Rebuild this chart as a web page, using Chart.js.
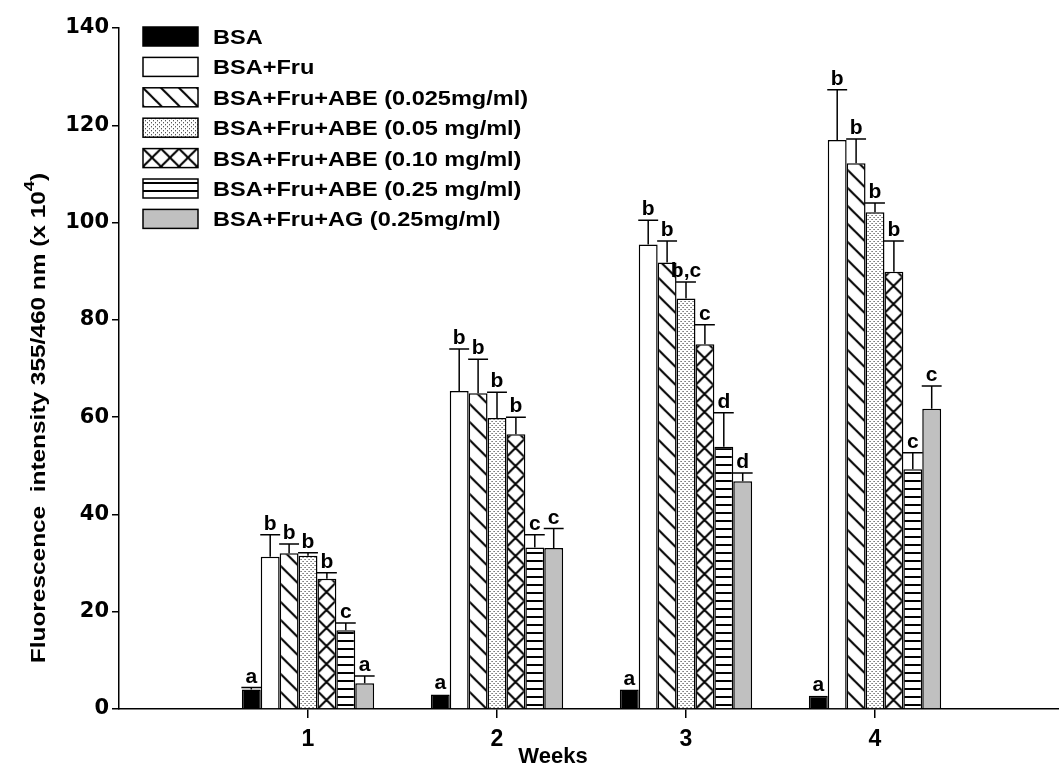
<!DOCTYPE html>
<html>
<head>
<meta charset="utf-8">
<script src="https://cdn.jsdelivr.net/npm/chart.js@4.4.1/dist/chart.umd.min.js"></script>
<style>
  html, body { margin: 0; padding: 0; background: #fff; overflow: hidden; }
  #wrap { position: relative; width: 1072px; height: 765px; }
</style>
</head>
<body>
<div id="wrap"><canvas id="fluoChart"></canvas></div>
<script>
// weeks on the x axis
const weeks = ['1', '2', '3', '4'];

const seriesNames = [
    'BSA',
    'BSA+Fru',
    'BSA+Fru+ABE (0.025mg/ml)',
    'BSA+Fru+ABE (0.05 mg/ml)',
    'BSA+Fru+ABE (0.10 mg/ml)',
    'BSA+Fru+ABE (0.25 mg/ml)',
    'BSA+Fru+AG (0.25mg/ml)'
];

// fluorescence intensity (x 10^4), one value per week
const bsa      = [4.0, 3.0, 4.0, 2.7];
const bsaFru   = [31.3, 65.4, 95.5, 117.0];
const abe0025  = [32.0, 64.9, 91.8, 112.2];
const abe005   = [31.5, 59.8, 84.4, 102.1];
const abe010   = [26.8, 56.5, 75.0, 89.9];
const abe025   = [16.2, 33.2, 53.9, 49.3];
const ag025    = [5.3, 33.1, 46.8, 61.7];

// upper error (SD)
const bsaErr     = [0.4, 0, 0, 0];
const bsaFruErr  = [4.5, 8.6, 5.0, 10.3];
const abe0025Err = [1.9, 7.0, 4.4, 5.0];
const abe005Err  = [0.6, 5.3, 3.4, 1.9];
const abe010Err  = [1.2, 3.5, 4.0, 6.3];
const abe025Err  = [1.5, 2.6, 7.0, 3.4];
const ag025Err   = [1.5, 4.0, 1.7, 4.7];

// significance letters
const bsaSig     = ['a', 'a', 'a', 'a'];
const bsaFruSig  = ['b', 'b', 'b', 'b'];
const abe0025Sig = ['b', 'b', 'b', 'b'];
const abe005Sig  = ['b', 'b', 'b,c', 'b'];
const abe010Sig  = ['b', 'b', 'c', 'b'];
const abe025Sig  = ['c', 'c', 'd', 'c'];
const ag025Sig   = ['a', 'c', 'd', 'c'];

const allValues  = [bsa, bsaFru, abe0025, abe005, abe010, abe025, ag025];
const allErrors  = [bsaErr, bsaFruErr, abe0025Err, abe005Err, abe010Err, abe025Err, ag025Err];
const allLetters = [bsaSig, bsaFruSig, abe0025Sig, abe005Sig, abe010Sig, abe025Sig, ag025Sig];
const fills = ['#000000', '#ffffff', 'diag', 'dots', 'cross', 'hlines', '#c0c0c0'];

const CAT_PCT = 0.7;

// one empty slot each side so the axis runs from 0 to 5
const axisLabels = [''].concat(weeks, ['']);

function makeTile(kind) {
    const c = document.createElement('canvas');
    const g = c.getContext('2d');
    if (kind === 'diag' || kind === 'cross') {
        const s = 18;
        c.width = s; c.height = s;
        g.fillStyle = '#fff';
        g.fillRect(0, 0, s, s);
        g.strokeStyle = '#000';
        g.lineWidth = 2;
        g.beginPath();
        g.moveTo(-2, -2); g.lineTo(s + 2, s + 2);
        g.moveTo(-3, s - 3); g.lineTo(3, s + 3);
        g.moveTo(s - 3, -3); g.lineTo(s + 3, 3);
        if (kind === 'cross') {
            g.moveTo(-2, s + 2); g.lineTo(s + 2, -2);
            g.moveTo(-3, 3); g.lineTo(3, -3);
            g.moveTo(s - 3, s + 3); g.lineTo(s + 3, s - 3);
        }
        g.stroke();
    } else if (kind === 'dots') {
        c.width = 4; c.height = 4;
        g.fillStyle = '#fff';
        g.fillRect(0, 0, 4, 4);
        g.fillStyle = '#222';
        g.fillRect(0, 0, 1, 1);
        g.fillRect(2, 2, 1, 1);
    } else if (kind === 'hlines') {
        c.width = 4; c.height = 8;
        g.fillStyle = '#fff';
        g.fillRect(0, 0, 4, 8);
        g.fillStyle = '#000';
        g.fillRect(0, 3, 4, 2);
    }
    return c;
}

const tiles = {};
['diag', 'cross', 'dots', 'hlines'].forEach(k => tiles[k] = makeTile(k));

function patternAt(ctx, kind, left, top) {
    const p = ctx.createPattern(tiles[kind], 'repeat');
    if (isFinite(left) && isFinite(top) && p.setTransform) {
        p.setTransform(new DOMMatrix().translate(left, top));
    }
    return p;
}

function barFill(kind) {
    if (kind.charAt(0) === '#') return kind;
    return (c) => {
        const chart = c.chart;
        const xs = chart.scales.x;
        if (!xs || c.dataIndex === undefined) return patternAt(chart.ctx, kind, 0, 0);
        const step = xs.getPixelForValue(1) - xs.getPixelForValue(0);
        const w = step * CAT_PCT / allValues.length;
        const left = xs.getPixelForValue(c.dataIndex) + (c.datasetIndex - allValues.length / 2) * w;
        const bottom = chart.chartArea ? chart.chartArea.bottom : 0;
        return patternAt(chart.ctx, kind, left, bottom);
    };
}

const datasets = seriesNames.map((name, i) => ({
    label: name,
    data: [null].concat(allValues[i], [null]),
    errors: [0].concat(allErrors[i], [0]),
    letters: [''].concat(allLetters[i], ['']),
    fillKind: fills[i],
    backgroundColor: barFill(fills[i]),
    borderColor: '#000',
    borderWidth: 1.5,
    barPercentage: 1,
    categoryPercentage: CAT_PCT
}));

// error bars and letters above each bar
const errorBars = {
    id: 'errorBars',
    afterDatasetsDraw(chart) {
        const ctx = chart.ctx;
        const y = chart.scales.y;
        ctx.save();
        ctx.strokeStyle = '#000';
        ctx.lineWidth = 1.5;
        ctx.fillStyle = '#000';
        ctx.font = 'bold 21px "Liberation Sans", Arial, sans-serif';
        ctx.textAlign = 'center';
        ctx.textBaseline = 'alphabetic';
        chart.data.datasets.forEach((ds, i) => {
            const meta = chart.getDatasetMeta(i);
            meta.data.forEach((bar, j) => {
                const v = ds.data[j];
                if (v === null || v === undefined) return;
                const err = ds.errors[j];
                const top = y.getPixelForValue(v + err);
                if (err > 0) {
                    const half = bar.width / 2 + 0.5;
                    ctx.beginPath();
                    ctx.moveTo(bar.x, bar.y);
                    ctx.lineTo(bar.x, top);
                    ctx.moveTo(bar.x - half, top);
                    ctx.lineTo(bar.x + half, top);
                    ctx.stroke();
                }
                ctx.fillText(ds.letters[j], bar.x, top - 5);
            });
        });
        ctx.restore();
    }
};

// legend, axis titles
const decorations = {
    id: 'decorations',
    afterDraw(chart) {
        const ctx = chart.ctx;
        ctx.save();
        // legend
        const boxX = 143, boxW = 55, boxH = 19, firstTop = 27, rowGap = 30.4;
        chart.data.datasets.forEach((ds, i) => {
            const top = firstTop + i * rowGap;
            ctx.fillStyle = ds.fillKind.charAt(0) === '#' ? ds.fillKind : patternAt(ctx, ds.fillKind, boxX, top);
            ctx.fillRect(boxX, top, boxW, boxH);
            ctx.strokeStyle = '#000';
            ctx.lineWidth = 1.5;
            ctx.strokeRect(boxX, top, boxW, boxH);
            ctx.save();
            ctx.fillStyle = '#000';
            ctx.font = 'bold 21px "Liberation Sans", Arial, sans-serif';
            ctx.textAlign = 'left';
            ctx.textBaseline = 'alphabetic';
            ctx.translate(213, top + boxH / 2 + 7.5);
            ctx.scale(1.12, 1);
            ctx.fillText(ds.label, 0, 0);
            ctx.restore();
        });

        // x title
        ctx.fillStyle = '#000';
        ctx.font = 'bold 22px "Liberation Sans", Arial, sans-serif';
        ctx.textAlign = 'center';
        ctx.textBaseline = 'alphabetic';
        ctx.fillText('Weeks', 553, 763);

        // y title with superscript
        const main = 'Fluorescence  intensity 355/460 nm (x 10';
        ctx.save();
        ctx.translate(38, 418);
        ctx.rotate(-Math.PI / 2);
        ctx.scale(1.22, 1);
        ctx.textAlign = 'left';
        ctx.textBaseline = 'middle';
        ctx.font = 'bold 20px "Liberation Sans", Arial, sans-serif';
        const wMain = ctx.measureText(main).width;
        const wClose = ctx.measureText(')').width;
        ctx.font = 'bold 15px "Liberation Sans", Arial, sans-serif';
        const wSup = ctx.measureText('4').width;
        let x = -(wMain + wSup + wClose) / 2;
        ctx.font = 'bold 20px "Liberation Sans", Arial, sans-serif';
        ctx.fillText(main, x, 1);
        x += wMain;
        ctx.font = 'bold 15px "Liberation Sans", Arial, sans-serif';
        ctx.fillText('4', x, -8);
        x += wSup;
        ctx.font = 'bold 20px "Liberation Sans", Arial, sans-serif';
        ctx.fillText(')', x, 1);
        ctx.restore();
        ctx.restore();
    }
};

const ctx = document.getElementById('fluoChart').getContext('2d');
const fluoChart = new Chart(ctx, {
    type: 'bar',
    data: {
        labels: axisLabels,
        datasets: datasets
    },
    options: {
        responsive: true,
        maintainAspectRatio: false,
        animation: false,
        layout: { padding: { top: 28, left: 0, right: 0, bottom: 0 } },
        plugins: {
            legend: { display: false },
            tooltip: { enabled: false }
        },
        scales: {
            x: {
                type: 'category',
                offset: false,
                afterFit: s => { s.height = 56; },
                grid: {
                    offset: false,
                    drawOnChartArea: false,
                    drawTicks: true,
                    tickLength: 9,
                    lineWidth: 1.5,
                    color: c => (c.index === 0 || c.index === axisLabels.length - 1) ? 'rgba(0,0,0,0)' : '#000'
                },
                border: { display: true, color: '#000', width: 1.5 },
                ticks: {
                    color: '#000',
                    padding: 8,
                    autoSkip: false,
                    maxRotation: 0,
                    font: { family: '"Liberation Sans", Arial, sans-serif', size: 23, weight: 'bold' }
                }
            },
            y: {
                min: 0,
                max: 140,
                afterFit: s => { s.width = 119; },
                grid: {
                    drawOnChartArea: false,
                    drawTicks: true,
                    tickLength: 7,
                    lineWidth: 1.5,
                    color: '#000'
                },
                border: { display: true, color: '#000', width: 1.5 },
                ticks: {
                    stepSize: 20,
                    color: '#000',
                    padding: 3,
                    font: { family: '"DejaVu Sans", sans-serif', size: 21, weight: 'bold' }
                }
            }
        }
    },
    plugins: [errorBars, decorations]
});
</script>
</body>
</html>
